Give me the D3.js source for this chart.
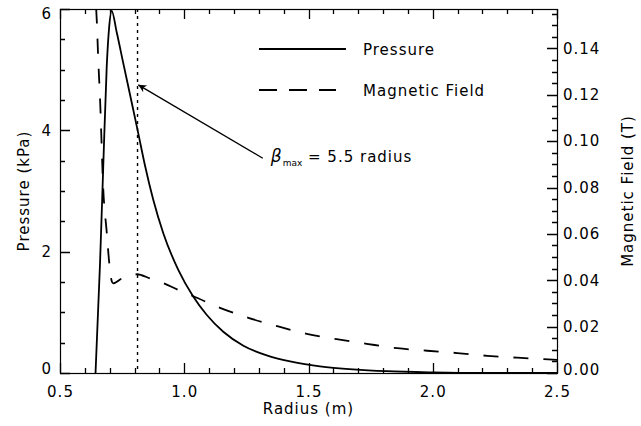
<!DOCTYPE html>
<html>
<head>
<meta charset="utf-8">
<script src="https://cdn.jsdelivr.net/npm/d3@7"></script>
<style>
	body { margin: 0; background: white; }
	text { font-family: "DejaVu Sans", sans-serif; font-size: 15px; letter-spacing: 1px; fill: black; }
</style>
</head>
<body>
<div id="chart-area"></div>
<script>

// *********************
// Data
// *********************

// Pressure profile (kPa) vs radius (m)
const pressureRadius = [0.643, 0.661, 0.674, 0.688, 0.698, 0.708, 0.728, 0.755, 0.789, 0.815, 0.842, 0.875, 0.916, 0.976, 1.036, 1.09, 1.157, 1.238, 1.332, 1.426, 1.546, 1.68, 1.815, 2.0, 2.2, 2.5];
const pressureValues = [0.0, 1.80, 3.40, 5.05, 5.71, 5.97, 5.62, 5.10, 4.45, 3.95, 3.42, 2.86, 2.30, 1.70, 1.26, 0.96, 0.68, 0.45, 0.29, 0.19, 0.11, 0.06, 0.03, 0.01, 0.0, 0.0];

// Magnetic field (T) vs radius (m)
const fieldRadius = [0.633, 0.648, 0.654, 0.661, 0.674, 0.688, 0.698, 0.708, 0.714, 0.748, 0.81, 0.862, 0.918, 0.976, 1.037, 1.144, 1.258, 1.378, 1.493, 1.613, 1.734, 1.857, 1.978, 2.099, 2.22, 2.34, 2.465, 2.5];
const fieldValues = [0.17, 0.152, 0.135, 0.1186, 0.0795, 0.0608, 0.0477, 0.0397, 0.0387, 0.0407, 0.0426, 0.0408, 0.0387, 0.0358, 0.0331, 0.0281, 0.0238, 0.0201, 0.0169, 0.0146, 0.0126, 0.0107, 0.0096, 0.0086, 0.0074, 0.0066, 0.0059, 0.0057];

// Tick labels
const xTicks = [0.5, 1.0, 1.5, 2.0, 2.5];
const pressureTicks = [0, 2, 4, 6];
const fieldTicks = [0.00, 0.02, 0.04, 0.06, 0.08, 0.10, 0.12, 0.14];

// beta max marker and annotation
const betaRadius = 0.812;
const arrowFrom = [1.316, 3.54];
const arrowTo = [0.815, 4.75];

// *********************
// Basic setup SVG
// *********************

const width = 641;
const height = 426;
const plot = {left: 60, right: 557, top: 9, bottom: 373};

const svg = d3.select("#chart-area")
	.append("svg")
	.attr("width", width)
	.attr("height", height);

svg.append("rect")
	.attr("width", width)
	.attr("height", height)
	.attr("fill", "white");

// *********************
// Scales
// *********************

const x = d3.scaleLinear()
	.domain([0.5, 2.5])
	.range([plot.left, plot.right]);

const yP = d3.scaleLinear()
	.domain([0, 6])
	.range([plot.bottom, plot.top]);

const yB = d3.scaleLinear()
	.domain([0, 0.157])
	.range([plot.bottom, plot.top]);

// minor ticks
const xMinor = d3.range(0.6, 2.45, 0.1);
const pressureMinor = d3.range(0.5, 6, 0.5);
const fieldMinor = d3.range(0.005, 0.156, 0.005);

// *********************
// Frame and ticks (IDL style, pointing inward)
// *********************

svg.append("rect")
	.attr("x", plot.left + 0.5)
	.attr("y", plot.top + 0.5)
	.attr("width", plot.right - plot.left)
	.attr("height", plot.bottom - plot.top)
	.attr("fill", "none")
	.attr("stroke", "black")
	.attr("stroke-width", 1.2);

// all ticks as one path
let tickPath = "";
function addTicks(values, scale, side, len) {
	values.forEach(d => {
		const p = Math.round(scale(d)) + 0.5;
		if (side === "bottom") tickPath += "M" + p + "," + plot.bottom + "V" + (plot.bottom - len);
		if (side === "top") tickPath += "M" + p + "," + plot.top + "V" + (plot.top + len);
		if (side === "left") tickPath += "M" + plot.left + "," + p + "H" + (plot.left + len);
		if (side === "right") tickPath += "M" + plot.right + "," + p + "H" + (plot.right - len);
	});
}

addTicks(xTicks, x, "bottom", 10);
addTicks(xTicks, x, "top", 10);
addTicks(xMinor, x, "bottom", 5);
addTicks(xMinor, x, "top", 5);
addTicks(pressureTicks, yP, "left", 10);
addTicks(pressureMinor, yP, "left", 5);
addTicks(fieldTicks, yB, "right", 10);
addTicks(fieldMinor, yB, "right", 5);

svg.append("path")
	.attr("d", tickPath)
	.attr("fill", "none")
	.attr("stroke", "black")
	.attr("stroke-width", 1.3);

// tick labels through d3 axes (no tick lines, no domain)
function labelsOnly(sel) {
	sel.select(".domain").remove();
	sel.selectAll("line").remove();
	sel.selectAll("text").attr("font-family", null).attr("font-size", null);
}

svg.append("g")
	.attr("transform", "translate(0," + plot.bottom + ")")
	.call(d3.axisBottom(x).tickValues(xTicks).tickFormat(d3.format(".1f"))
		.tickSize(0).tickPadding(13))
	.call(labelsOnly);

svg.append("g")
	.attr("transform", "translate(" + plot.left + ",0)")
	.call(d3.axisLeft(yP).tickValues(pressureTicks).tickFormat(d3.format("d"))
		.tickSize(0).tickPadding(8))
	.call(labelsOnly)
	.selectAll("text")
	.attr("dy", d => d === 6 ? "0.62em" : d === 0 ? "0.05em" : "0.32em");

svg.append("g")
	.attr("transform", "translate(" + plot.right + ",0)")
	.call(d3.axisRight(yB).tickValues(fieldTicks).tickFormat(d3.format(".2f"))
		.tickSize(0).tickPadding(6))
	.call(labelsOnly)
	.selectAll("text")
	.attr("dy", d => d === 0 ? "0.1em" : "0.32em");

// axis labels
svg.append("text")
	.attr("x", (plot.left + plot.right) / 2)
	.attr("y", 414)
	.attr("text-anchor", "middle")
	.text("Radius (m)");

svg.append("text")
	.attr("transform", "translate(29," + (plot.top + plot.bottom) / 2 + ") rotate(-90)")
	.attr("text-anchor", "middle")
	.attr("letter-spacing", "1.6px")
	.text("Pressure (kPa)");

svg.append("text")
	.attr("transform", "translate(633," + (plot.top + plot.bottom) / 2 + ") rotate(-90)")
	.attr("text-anchor", "middle")
	.text("Magnetic Field (T)");

// *********************
// Curves
// *********************

svg.append("clipPath")
	.attr("id", "clip")
	.append("rect")
	.attr("x", plot.left)
	.attr("y", plot.top)
	.attr("width", plot.right - plot.left)
	.attr("height", plot.bottom - plot.top);

const plotArea = svg.append("g").attr("clip-path", "url(#clip)");

const pressureLine = d3.line()
	.x((d, i) => x(pressureRadius[i]))
	.y(d => yP(d))
	.curve(d3.curveMonotoneX);

const fieldLine = d3.line()
	.x((d, i) => x(fieldRadius[i]))
	.y(d => yB(d))
	.curve(d3.curveMonotoneX);

plotArea.append("path")
	.attr("d", pressureLine(pressureValues))
	.attr("fill", "none")
	.attr("stroke", "black")
	.attr("stroke-width", 1.8);

plotArea.append("path")
	.attr("d", fieldLine(fieldValues))
	.attr("fill", "none")
	.attr("stroke", "black")
	.attr("stroke-width", 1.8)
	.attr("stroke-dasharray", "15,15");

// dotted beta max line
plotArea.append("line")
	.attr("x1", x(betaRadius))
	.attr("x2", x(betaRadius))
	.attr("y1", plot.top)
	.attr("y2", plot.bottom)
	.attr("stroke", "black")
	.attr("stroke-width", 1.4)
	.attr("stroke-dasharray", "3,4");

// *********************
// Annotation
// *********************

svg.append("defs").append("marker")
	.attr("id", "arrow")
	.attr("viewBox", "0 0 10 10")
	.attr("refX", 10)
	.attr("refY", 5)
	.attr("markerWidth", 10)
	.attr("markerHeight", 8)
	.attr("markerUnits", "userSpaceOnUse")
	.attr("orient", "auto")
	.append("path")
	.attr("d", "M0,0 L10,5 L0,10 L3,5 Z")
	.attr("fill", "black");

svg.append("line")
	.attr("x1", x(arrowFrom[0]))
	.attr("y1", yP(arrowFrom[1]))
	.attr("x2", x(arrowTo[0]))
	.attr("y2", yP(arrowTo[1]))
	.attr("stroke", "black")
	.attr("stroke-width", 1.3)
	.attr("marker-end", "url(#arrow)");

const note = svg.append("text")
	.attr("x", x(arrowFrom[0]) + 8)
	.attr("y", yP(arrowFrom[1]) + 4);
note.append("tspan").attr("font-style", "italic").attr("font-size", "17px").text("β");
note.append("tspan").attr("font-size", "9px").attr("letter-spacing", "0px").attr("dy", 4).text("max");
note.append("tspan").attr("dy", -4).text(" = 5.5 radius");

// *********************
// Legend
// *********************

const legend = svg.append("g");

legend.append("line")
	.attr("x1", 259).attr("x2", 346)
	.attr("y1", 49).attr("y2", 49)
	.attr("stroke", "black").attr("stroke-width", 1.8);
legend.append("text")
	.attr("x", 363).attr("y", 55)
	.text("Pressure");

legend.append("line")
	.attr("x1", 259).attr("x2", 336)
	.attr("y1", 90).attr("y2", 90)
	.attr("stroke", "black").attr("stroke-width", 1.8)
	.attr("stroke-dasharray", "18,12");
legend.append("text")
	.attr("x", 363).attr("y", 96)
	.text("Magnetic Field");

</script>
</body>
</html>
